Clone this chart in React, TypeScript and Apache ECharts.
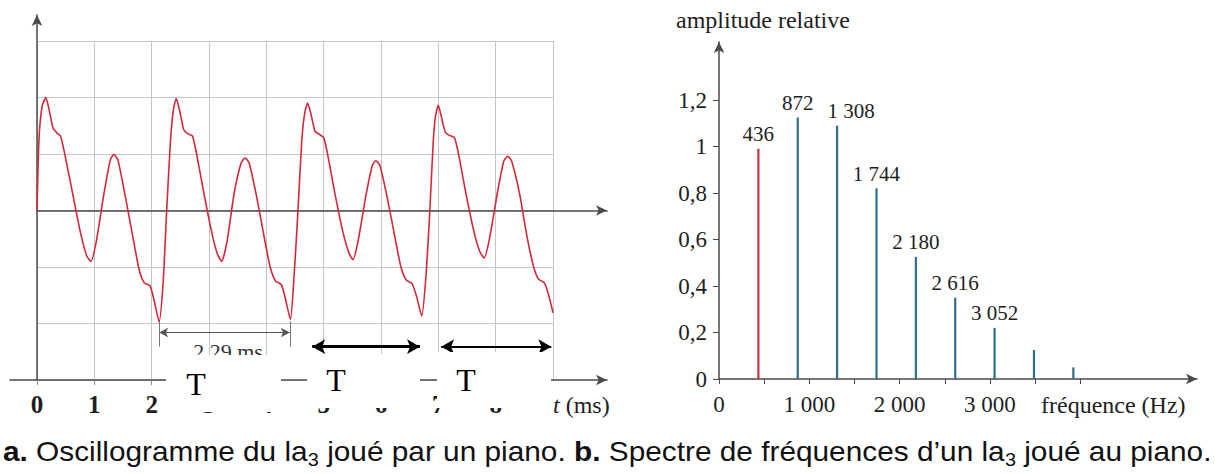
import React, { useEffect, useRef } from 'react';
import * as echarts from 'echarts';

// ---------- Data: a. oscillogram (t in ms, amplitude in divisions) ----------
const timeTickLabels = [0, 1, 2, 3, 4, 5, 6, 7, 8];
const waveform: [number, number][] = [
  [0, 0], [0.035, 1.26], [0.09, 1.85], [0.155, 2.0], [0.21, 1.79], [0.28, 1.46], [0.35, 1.37], [0.41, 1.32],
  [0.48, 1.02], [0.62, 0.31], [0.76, -0.4], [0.87, -0.81], [0.94, -0.9], [1.03, -0.57], [1.17, 0.31], [1.28, 0.9],
  [1.34, 0.99], [1.41, 0.9], [1.54, 0.25], [1.68, -0.51], [1.78, -1.04], [1.87, -1.28], [1.97, -1.33], [2.04, -1.58],
  [2.13, -1.97], [2.2, -1.28], [2.26, -0.04], [2.33, 1.26], [2.38, 1.79], [2.43, 1.98],
  [2.49, 1.76], [2.56, 1.43], [2.63, 1.36], [2.71, 1.32], [2.78, 1.02], [2.91, 0.31], [3.05, -0.4], [3.15, -0.78],
  [3.22, -0.9], [3.31, -0.57], [3.44, 0.31], [3.56, 0.84], [3.63, 0.93], [3.7, 0.84], [3.83, 0.25], [3.97, -0.51],
  [4.07, -1.01], [4.16, -1.25], [4.26, -1.31], [4.33, -1.55], [4.42, -1.93], [4.48, -1.22], [4.55, -0.04], [4.62, 1.26],
  [4.67, 1.73], [4.72, 1.9],
  [4.78, 1.7], [4.85, 1.4], [4.92, 1.35], [5.0, 1.29], [5.07, 0.99], [5.2, 0.28], [5.34, -0.4], [5.44, -0.75],
  [5.51, -0.87], [5.6, -0.54], [5.74, 0.28], [5.85, 0.8], [5.91, 0.88], [5.98, 0.8], [6.11, 0.22], [6.25, -0.51],
  [6.35, -1.01], [6.44, -1.23], [6.54, -1.29], [6.62, -1.52], [6.71, -1.87], [6.78, -1.22], [6.85, -0.04], [6.91, 1.2],
  [6.95, 1.67], [7.0, 1.86],
  [7.05, 1.67], [7.12, 1.39], [7.19, 1.33], [7.28, 1.29], [7.35, 1.01], [7.48, 0.31], [7.62, -0.37], [7.72, -0.72],
  [7.8, -0.84], [7.89, -0.51], [8.03, 0.31], [8.14, 0.87], [8.21, 0.96], [8.28, 0.87], [8.42, 0.28], [8.55, -0.48],
  [8.66, -0.99], [8.75, -1.22], [8.85, -1.28], [8.93, -1.52], [9.0, -1.81],
];
// period annotation (ms) and the two "T" arrows
const periodArrowT = [2.13, 4.41];
const periodArrowV = -2.16;
const tArrowsT = [[4.8, 6.68], [7.05, 8.97]];
const tArrowV = -2.41;

// ---------- Data: b. spectrum ----------
const harmonicFreqs = [436, 872, 1308, 1744, 2180, 2616, 3052, 3488, 3924];
const harmonicAmps = [0.99, 1.125, 1.09, 0.82, 0.525, 0.35, 0.22, 0.125, 0.05];
const labeledHarmonics = 7;
const ampTicks = [0, 0.2, 0.4, 0.6, 0.8, 1, 1.2];
const freqLabelTicks = [0, 1000, 2000, 3000];
const freqTicks = [0, 500, 1000, 1500, 2000, 2500, 3000, 3500, 4000];

const SERIF = '"Liberation Serif", "DejaVu Serif", serif';
const SANS = '"Liberation Sans", Arial, sans-serif';
const TXT = '#1e1e1e';
const AXIS = '#4a4a4a';
const GRIDC = '#c6c6c6';

const fmtHz = (v: number) => (v >= 1000 ? `${Math.floor(v / 1000)} ${String(v % 1000).padStart(3, '0')}` : String(v));
const fmtComma = (v: number) => String(v).replace('.', ',');

export default function App() {
  const ref = useRef<HTMLDivElement>(null);
  useEffect(() => {
    if (!ref.current) return;
    const chart = echarts.init(ref.current, undefined, { renderer: 'svg' });

    // layout of left panel
    const PX_MS = 516 / 9;
    const PX_DIV = 339 / 6;
    // layout of right panel
    const PX_KHZ = 90.3;
    const PX_AMP = 232.5;

    // caption measurement
    const capSize = 27;
    const subSize = 18;
    const ctx = document.createElement('canvas').getContext('2d')!;
    const meas = (t: string, w: string, s: number) => {
      ctx.font = `${w} ${s}px "Liberation Sans"`;
      return ctx.measureText(t).width;
    };
    const segs: [string, string][] = [
      ['b', 'a.'], ['n', ' Oscillogramme du la'], ['s', '3'], ['n', ' joué par un piano. '],
      ['b', 'b.'], ['n', ' Spectre de fréquences d\u2019un la'], ['s', '3'], ['n', ' joué au piano.'],
    ];
    let total = 0;
    segs.forEach(([k, t]) => {
      total += meas(t, k === 'b' ? 'bold' : 'normal', k === 's' ? subSize : capSize);
    });
    const capScale = 1209 / total;
    const capText = segs.map(([k, t]) => `{${k}|${t}}`).join('');

    const noAxisParts = {
      axisLine: { show: false }, axisTick: { show: false }, axisLabel: { show: false },
    };

    const option: any = {
      animation: false,
      backgroundColor: '#ffffff',
      grid: [
        { left: 37, top: 41, width: 516, height: 339, outerBoundsMode: 'none', containLabel: false },
        { left: 10, top: 15, width: 597, height: 365, outerBoundsMode: 'none', containLabel: false },
        { left: 37, top: 41, width: 570, height: 339, outerBoundsMode: 'none', containLabel: false },
        { left: 719, top: 42, width: 478, height: 337, outerBoundsMode: 'none', containLabel: false },
      ],
      xAxis: [
        {
          gridIndex: 0, type: 'value', min: 0, max: 9, interval: 1, ...noAxisParts,
          splitLine: { show: true, lineStyle: { color: GRIDC, width: 1 } },
        },
        {
          gridIndex: 1, type: 'value', min: -27 / PX_MS, max: 570 / PX_MS,
          axisLine: { show: true, onZero: false, symbol: ['none', 'arrow'], symbolSize: [8, 11], lineStyle: { color: AXIS, width: 1.5 } },
          axisTick: { show: true, customValues: timeTickLabels, length: 5, lineStyle: { color: '#888' } },
          axisLabel: {
            show: true, customValues: timeTickLabels, margin: 12,
            fontFamily: SERIF, fontSize: 25, fontWeight: 'bold', color: TXT,
          },
          splitLine: { show: false },
        },
        {
          gridIndex: 2, type: 'value', min: 0, max: 570 / PX_MS,
          axisLine: { show: true, onZero: true, symbol: ['none', 'arrow'], symbolSize: [8, 11], lineStyle: { color: AXIS, width: 1.5 } },
          axisTick: { show: false }, axisLabel: { show: false }, splitLine: { show: false },
        },
        {
          gridIndex: 3, type: 'value', min: 0, max: (478 / PX_KHZ) * 1000,
          axisLine: { show: true, onZero: false, symbol: ['none', 'arrow'], symbolSize: [8, 11], lineStyle: { color: AXIS, width: 1.5 } },
          axisTick: { show: true, customValues: freqTicks, length: 5, lineStyle: { color: AXIS } },
          axisLabel: {
            show: true, customValues: freqLabelTicks, margin: 14, formatter: (v: number) => fmtHz(v),
            fontFamily: SERIF, fontSize: 23, color: TXT,
          },
          splitLine: { show: false },
        },
      ],
      yAxis: [
        {
          gridIndex: 0, type: 'value', min: -3, max: 3, interval: 1, ...noAxisParts,
          splitLine: { show: true, lineStyle: { color: GRIDC, width: 1 } },
        },
        {
          gridIndex: 1, type: 'value', min: -3, max: -3 + 365 / PX_DIV,
          axisLine: { show: true, onZero: true, symbol: ['none', 'arrow'], symbolSize: [8, 11], lineStyle: { color: AXIS, width: 1.5 } },
          axisTick: { show: false }, axisLabel: { show: false }, splitLine: { show: false },
        },
        {
          gridIndex: 2, type: 'value', min: -3, max: 3,
          axisLine: { show: false }, axisTick: { show: false }, axisLabel: { show: false }, splitLine: { show: false },
        },
        {
          gridIndex: 3, type: 'value', min: 0, max: 337 / PX_AMP,
          axisLine: { show: true, onZero: false, symbol: ['none', 'arrow'], symbolSize: [8, 11], lineStyle: { color: AXIS, width: 1.5 } },
          axisTick: { show: true, customValues: ampTicks, length: 6, lineStyle: { color: AXIS } },
          axisLabel: {
            show: true, customValues: ampTicks, margin: 12, formatter: (v: number) => fmtComma(v),
            fontFamily: SERIF, fontSize: 23, color: TXT,
          },
          splitLine: { show: false },
        },
      ],
      series: [
        {
          type: 'line', xAxisIndex: 0, yAxisIndex: 0, data: waveform, showSymbol: false, smooth: 0.2,
          lineStyle: { color: '#d3283c', width: 1.6 }, silent: true, z: 5,
        },
        {
          type: 'line', xAxisIndex: 0, yAxisIndex: 0, data: [], silent: true,
          markLine: {
            silent: true, symbol: ['arrow', 'arrow'], symbolSize: [7, 9],
            lineStyle: { color: '#555', width: 1.2, type: 'solid' }, label: { show: false },
            data: [[{ coord: [periodArrowT[0], periodArrowV] }, { coord: [periodArrowT[1], periodArrowV] }]],
          },
        },
        {
          type: 'line', xAxisIndex: 0, yAxisIndex: 0, data: [], silent: true,
          markLine: {
            silent: true, symbol: ['none', 'none'],
            lineStyle: { color: '#777', width: 1, type: 'solid' }, label: { show: false },
            data: periodArrowT.map((t) => [{ coord: [t, periodArrowV + 0.2] }, { coord: [t, periodArrowV - 0.25] }]),
          },
        },
        {
          type: 'line', xAxisIndex: 0, yAxisIndex: 0, data: [], silent: true,
          markLine: {
            silent: true, symbol: ['arrow', 'arrow'], symbolSize: [11, 13],
            lineStyle: { color: '#000', width: 3.2, type: 'solid' }, label: { show: false },
            data: [[{ coord: [tArrowsT[0][0], tArrowV] }, { coord: [tArrowsT[0][1], tArrowV] }]],
          },
        },
        {
          type: 'line', xAxisIndex: 0, yAxisIndex: 0, data: [], silent: true,
          markLine: {
            silent: true, symbol: ['arrow', 'arrow'], symbolSize: [11, 13],
            lineStyle: { color: '#000', width: 2, type: 'solid' }, label: { show: false },
            data: [[{ coord: [tArrowsT[1][0], tArrowV] }, { coord: [tArrowsT[1][1], tArrowV] }]],
          },
        },
        {
          type: 'bar', xAxisIndex: 3, yAxisIndex: 3, barWidth: 2.2, silent: true,
          data: harmonicFreqs.map((f, i) => ({
            value: [f, harmonicAmps[i]],
            itemStyle: { color: i === 0 ? '#c8323f' : '#2f6f86' },
            label: {
              show: i < labeledHarmonics,
              offset: f === 1308 ? [14, 0] : [0, 0],
            },
          })),
          label: {
            show: true, position: 'top', distance: 4,
            formatter: (p: any) => fmtHz(p.value[0]),
            fontFamily: SERIF, fontSize: 21, color: TXT,
          },
        },
      ],
      graphic: [
        {
          type: 'text', x: 228, y: 351, z: 50,
          style: { text: '2.29 ms', fontFamily: SERIF, fontSize: 22, fill: '#333', align: 'center', verticalAlign: 'middle' },
        },
        { type: 'rect', z: 100, shape: { x: 166, y: 355, width: 115, height: 57 }, style: { fill: '#ffffff' } },
        { type: 'rect', z: 100, shape: { x: 307, y: 354, width: 113, height: 54 }, style: { fill: '#ffffff' } },
        { type: 'rect', z: 100, shape: { x: 437, y: 352, width: 114, height: 56 }, style: { fill: '#ffffff' } },
        { type: 'text', x: 196, y: 384, z: 101, style: { text: 'T', fontFamily: SERIF, fontSize: 32, fill: '#000', align: 'center', verticalAlign: 'middle' } },
        { type: 'text', x: 336, y: 380, z: 101, style: { text: 'T', fontFamily: SERIF, fontSize: 32, fill: '#000', align: 'center', verticalAlign: 'middle' } },
        { type: 'text', x: 466, y: 380, z: 101, style: { text: 'T', fontFamily: SERIF, fontSize: 32, fill: '#000', align: 'center', verticalAlign: 'middle' } },
        {
          type: 'text', x: 553, y: 405, z: 20,
          style: {
            text: '{i|t} (ms)', fontFamily: SERIF, fontSize: 24, fill: TXT, align: 'left', verticalAlign: 'middle',
            rich: { i: { fontFamily: SERIF, fontSize: 24, fontStyle: 'italic', fill: TXT } },
          },
        },
        {
          type: 'text', x: 676, y: 20, z: 20,
          style: { text: 'amplitude relative', fontFamily: SERIF, fontSize: 24, fill: TXT, align: 'left', verticalAlign: 'middle' },
        },
        {
          type: 'text', x: 1041, y: 405, z: 20,
          style: { text: 'fréquence (Hz)', fontFamily: SERIF, fontSize: 24, fill: TXT, align: 'left', verticalAlign: 'middle' },
        },
        {
          type: 'text', x: 3, y: 452, z: 20, scaleX: capScale, scaleY: 1,
          style: {
            text: capText, fill: '#111', align: 'left', verticalAlign: 'middle',
            fontFamily: SANS, fontSize: capSize,
            rich: {
              b: { fontFamily: SANS, fontSize: capSize, fontWeight: 'bold', fill: '#111', lineHeight: 34, verticalAlign: 'middle' },
              n: { fontFamily: SANS, fontSize: capSize, fill: '#111', lineHeight: 34, verticalAlign: 'middle' },
              s: { fontFamily: SANS, fontSize: subSize, fill: '#111', lineHeight: subSize, verticalAlign: 'bottom' },
            },
          },
        },
      ],
    };
    chart.setOption(option);
    return () => chart.dispose();
  }, []);
  return (
    <div
      ref={ref}
      style={{ position: 'absolute', left: 0, top: 0, width: 1215, height: 474, background: '#fff' }}
    />
  );
}
